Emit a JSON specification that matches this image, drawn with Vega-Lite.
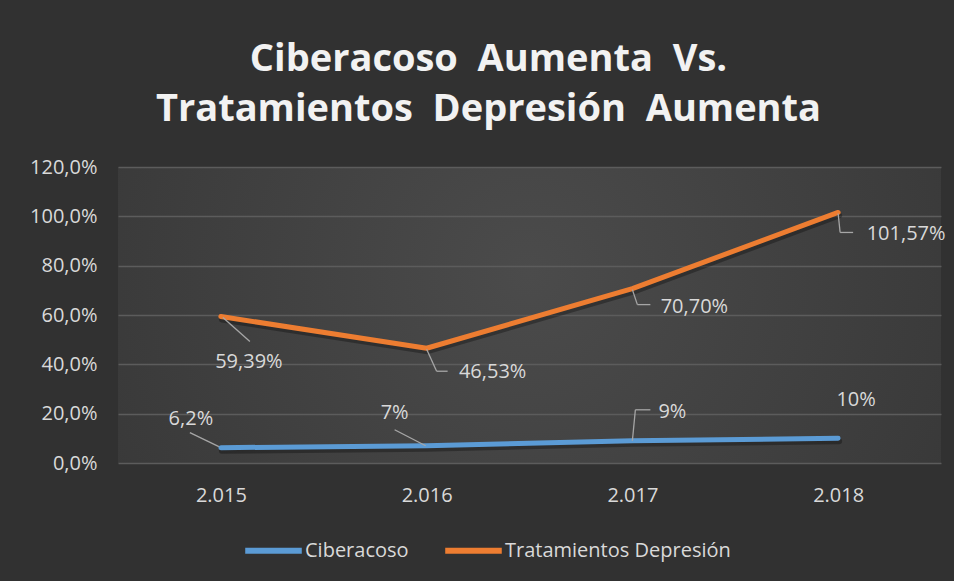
{
  "$schema": "https://vega.github.io/schema/vega-lite/v6.json",
  "autosize": "none",
  "width": 823,
  "height": 296,
  "padding": {"left": 118, "top": 167, "right": 13, "bottom": 118},
  "background": "#313131",
  "title": {
    "text": ["Ciberacoso\u00a0\u00a0Aumenta\u00a0\u00a0Vs.", "Tratamientos\u00a0\u00a0Depresión\u00a0\u00a0Aumenta"],
    "font": "Open Sans",
    "fontSize": 38,
    "fontWeight": "bold",
    "color": "#f2f2f2",
    "lineHeight": 50,
    "anchor": "middle",
    "dx": -41,
    "offset": 28
  },
  "data": {
    "values": [
      {"anio": "2.015", "serie": "Ciberacoso", "valor": 0.062, "label": "6,2%"},
      {"anio": "2.016", "serie": "Ciberacoso", "valor": 0.07, "label": "7%"},
      {"anio": "2.017", "serie": "Ciberacoso", "valor": 0.09, "label": "9%"},
      {"anio": "2.018", "serie": "Ciberacoso", "valor": 0.10, "label": "10%"},
      {"anio": "2.015", "serie": "Tratamientos Depresión", "valor": 0.5939, "label": "59,39%"},
      {"anio": "2.016", "serie": "Tratamientos Depresión", "valor": 0.4653, "label": "46,53%"},
      {"anio": "2.017", "serie": "Tratamientos Depresión", "valor": 0.7070, "label": "70,70%"},
      {"anio": "2.018", "serie": "Tratamientos Depresión", "valor": 1.0157, "label": "101,57%"}
    ]
  },
  "encoding": {
    "x": {
      "field": "anio",
      "type": "ordinal",
      "scale": {"type": "point", "padding": 0.5},
      "axis": {
        "title": null,
        "labelAngle": 0,
        "ticks": false,
        "domain": false,
        "grid": false,
        "labelPadding": 22,
        "labelFontSize": 20,
        "labelFont": "Open Sans",
        "labelColor": "#d9d9d9"
      }
    },
    "y": {
      "field": "valor",
      "type": "quantitative",
      "scale": {"domain": [0, 1.2], "nice": false},
      "axis": {
        "title": null,
        "values": [0, 0.2, 0.4, 0.6, 0.8, 1.0, 1.2],
        "format": ".1%",
        "ticks": false,
        "domain": false,
        "gridColor": "#5c5c5c",
        "gridWidth": 1.3,
        "labelPadding": 21,
        "labelFontSize": 20,
        "labelFont": "Open Sans",
        "labelColor": "#d9d9d9"
      }
    }
  },
  "layer": [
    {
      "mark": {"type": "line", "strokeWidth": 6, "strokeCap": "round", "strokeJoin": "round", "color": "#000000", "opacity": 0.3, "yOffset": 3, "xOffset": 1},
      "encoding": {"detail": {"field": "serie"}}
    },
    {
      "mark": {"type": "line", "strokeWidth": 5, "strokeCap": "round", "strokeJoin": "round"},
      "encoding": {
        "color": {
          "field": "serie",
          "type": "nominal",
          "scale": {"domain": ["Ciberacoso", "Tratamientos Depresión"], "range": ["#5b9bd5", "#ed7d31"]},
          "legend": {
            "title": null,
            "orient": "none",
            "direction": "horizontal",
            "legendX": 124,
            "legendY": 352,
            "symbolType": "stroke",
            "symbolStrokeWidth": 6,
            "symbolSize": 3200,
            "labelFontSize": 20,
            "labelFont": "Open Sans",
            "labelColor": "#d9d9d9",
            "labelLimit": 0,
            "labelOffset": 0,
            "columnPadding": 24
          }
        }
      }
    },
    {
      "transform": [{"filter": "datum.serie == 'Ciberacoso' && datum.anio == '2.015'"}],
      "mark": {"type": "rule", "color": "#a6a6a6", "strokeWidth": 1.3, "xOffset": -2, "yOffset": -1, "x2Offset": -31, "y2Offset": -15},
      "encoding": {"x2": {"field": "anio"}, "y2": {"field": "valor"}}
    },
    {
      "transform": [{"filter": "datum.serie == 'Ciberacoso' && datum.anio == '2.016'"}],
      "mark": {"type": "rule", "color": "#a6a6a6", "strokeWidth": 1.3, "xOffset": -1, "yOffset": 0, "x2Offset": -32, "y2Offset": -16},
      "encoding": {"x2": {"field": "anio"}, "y2": {"field": "valor"}}
    },
    {
      "transform": [{"filter": "datum.serie == 'Ciberacoso' && datum.anio == '2.017'"}],
      "mark": {"type": "rule", "color": "#a6a6a6", "strokeWidth": 1.3, "xOffset": 0, "yOffset": 0, "x2Offset": 3, "y2Offset": -31},
      "encoding": {"x2": {"field": "anio"}, "y2": {"field": "valor"}}
    },
    {
      "transform": [{"filter": "datum.serie == 'Ciberacoso' && datum.anio == '2.017'"}],
      "mark": {"type": "rule", "color": "#a6a6a6", "strokeWidth": 1.3, "xOffset": 3, "yOffset": -31, "x2Offset": 18, "y2Offset": -31},
      "encoding": {"x2": {"field": "anio"}, "y2": {"field": "valor"}}
    },
    {
      "transform": [{"filter": "datum.serie != 'Ciberacoso' && datum.anio == '2.015'"}],
      "mark": {"type": "rule", "color": "#a6a6a6", "strokeWidth": 1.3, "xOffset": 2, "yOffset": 1, "x2Offset": 29, "y2Offset": 25},
      "encoding": {"x2": {"field": "anio"}, "y2": {"field": "valor"}}
    },
    {
      "transform": [{"filter": "datum.serie != 'Ciberacoso' && datum.anio == '2.016'"}],
      "mark": {"type": "rule", "color": "#a6a6a6", "strokeWidth": 1.3, "xOffset": 0, "yOffset": 1, "x2Offset": 10, "y2Offset": 23},
      "encoding": {"x2": {"field": "anio"}, "y2": {"field": "valor"}}
    },
    {
      "transform": [{"filter": "datum.serie != 'Ciberacoso' && datum.anio == '2.016'"}],
      "mark": {"type": "rule", "color": "#a6a6a6", "strokeWidth": 1.3, "xOffset": 10, "yOffset": 23, "x2Offset": 21, "y2Offset": 23},
      "encoding": {"x2": {"field": "anio"}, "y2": {"field": "valor"}}
    },
    {
      "transform": [{"filter": "datum.serie != 'Ciberacoso' && datum.anio == '2.017'"}],
      "mark": {"type": "rule", "color": "#a6a6a6", "strokeWidth": 1.3, "xOffset": 0, "yOffset": 1, "x2Offset": 5, "y2Offset": 16},
      "encoding": {"x2": {"field": "anio"}, "y2": {"field": "valor"}}
    },
    {
      "transform": [{"filter": "datum.serie != 'Ciberacoso' && datum.anio == '2.017'"}],
      "mark": {"type": "rule", "color": "#a6a6a6", "strokeWidth": 1.3, "xOffset": 5, "yOffset": 16, "x2Offset": 18, "y2Offset": 16},
      "encoding": {"x2": {"field": "anio"}, "y2": {"field": "valor"}}
    },
    {
      "transform": [{"filter": "datum.serie != 'Ciberacoso' && datum.anio == '2.018'"}],
      "mark": {"type": "rule", "color": "#a6a6a6", "strokeWidth": 1.3, "xOffset": 0, "yOffset": 1, "x2Offset": 2, "y2Offset": 20},
      "encoding": {"x2": {"field": "anio"}, "y2": {"field": "valor"}}
    },
    {
      "transform": [{"filter": "datum.serie != 'Ciberacoso' && datum.anio == '2.018'"}],
      "mark": {"type": "rule", "color": "#a6a6a6", "strokeWidth": 1.3, "xOffset": 2, "yOffset": 20, "x2Offset": 15, "y2Offset": 20},
      "encoding": {"x2": {"field": "anio"}, "y2": {"field": "valor"}}
    },
    {
      "transform": [{"filter": "datum.serie == 'Ciberacoso' && datum.anio == '2.015'"}],
      "mark": {"type": "text", "font": "Open Sans", "fontSize": 20, "color": "#d9d9d9", "dx": -30, "dy": -29},
      "encoding": {"text": {"field": "label"}}
    },
    {
      "transform": [{"filter": "datum.serie == 'Ciberacoso' && datum.anio == '2.016'"}],
      "mark": {"type": "text", "font": "Open Sans", "fontSize": 20, "color": "#d9d9d9", "dx": -32, "dy": -33},
      "encoding": {"text": {"field": "label"}}
    },
    {
      "transform": [{"filter": "datum.serie == 'Ciberacoso' && datum.anio == '2.017'"}],
      "mark": {"type": "text", "font": "Open Sans", "fontSize": 20, "color": "#d9d9d9", "dx": 40, "dy": -29},
      "encoding": {"text": {"field": "label"}}
    },
    {
      "transform": [{"filter": "datum.serie == 'Ciberacoso' && datum.anio == '2.018'"}],
      "mark": {"type": "text", "font": "Open Sans", "fontSize": 20, "color": "#d9d9d9", "dx": 18, "dy": -38},
      "encoding": {"text": {"field": "label"}}
    },
    {
      "transform": [{"filter": "datum.serie != 'Ciberacoso' && datum.anio == '2.015'"}],
      "mark": {"type": "text", "font": "Open Sans", "fontSize": 20, "color": "#d9d9d9", "dx": 28, "dy": 45},
      "encoding": {"text": {"field": "label"}}
    },
    {
      "transform": [{"filter": "datum.serie != 'Ciberacoso' && datum.anio == '2.016'"}],
      "mark": {"type": "text", "font": "Open Sans", "fontSize": 20, "color": "#d9d9d9", "dx": 66, "dy": 24},
      "encoding": {"text": {"field": "label"}}
    },
    {
      "transform": [{"filter": "datum.serie != 'Ciberacoso' && datum.anio == '2.017'"}],
      "mark": {"type": "text", "font": "Open Sans", "fontSize": 20, "color": "#d9d9d9", "dx": 62, "dy": 18},
      "encoding": {"text": {"field": "label"}}
    },
    {
      "transform": [{"filter": "datum.serie != 'Ciberacoso' && datum.anio == '2.018'"}],
      "mark": {"type": "text", "font": "Open Sans", "fontSize": 20, "color": "#d9d9d9", "dx": 68, "dy": 22},
      "encoding": {"text": {"field": "label"}}
    }
  ],
  "config": {
    "locale": {"number": {"decimal": ",", "thousands": ".", "grouping": [3], "currency": ["", "€"]}},
    "view": {
      "stroke": null,
      "fill": {
        "gradient": "radial",
        "x1": 0.5, "y1": 0.45, "r1": 0,
        "x2": 0.5, "y2": 0.45, "r2": 0.75,
        "stops": [{"offset": 0, "color": "#4b4b4b"}, {"offset": 1, "color": "#333333"}]
      }
    }
  }
}
